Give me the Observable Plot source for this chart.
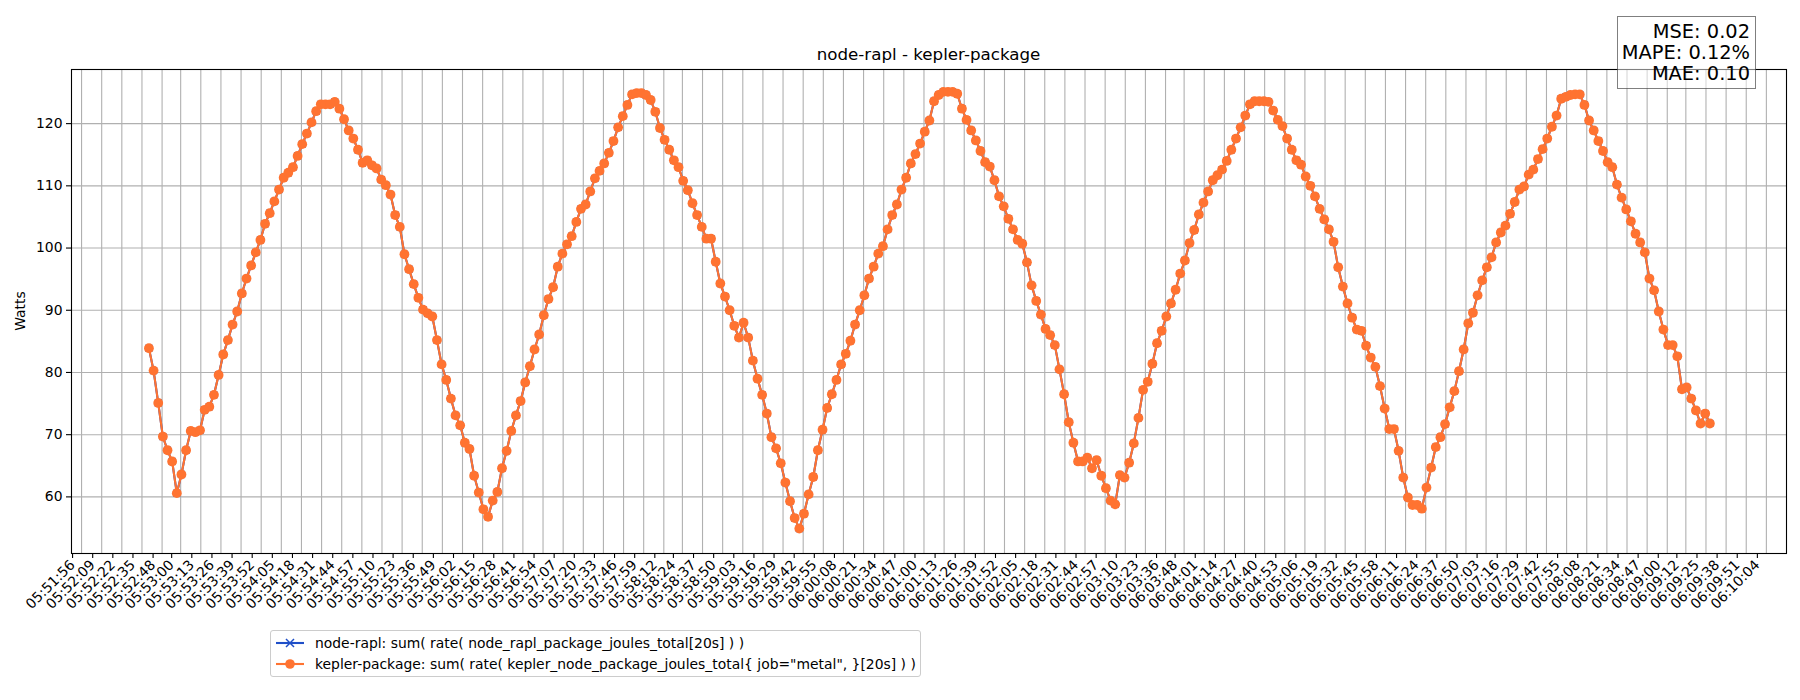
<!DOCTYPE html>
<html>
<head>
<meta charset="utf-8">
<script src="https://cdn.jsdelivr.net/npm/d3@7"></script>
<script src="https://cdn.jsdelivr.net/npm/@observablehq/plot@0.6"></script>
<style>
  html, body { margin: 0; padding: 0; background: #ffffff; }
  body { font-family: "DejaVu Sans", sans-serif; color: #000; }
  #fig { position: relative; width: 1800px; height: 700px; overflow: hidden; background: #fff; }
  #chart { position: absolute; left: 0; top: 0; }
  #title { position: absolute; left: 71px; width: 1715px; top: 44px; text-align: center; font-size: 16.7px; line-height: 20px; white-space: nowrap; }
  #ylabel { position: absolute; left: 20px; top: 311px; transform: translate(-50%, -50%) rotate(-90deg); font-size: 13.9px; line-height: 16px; white-space: nowrap; }
  #stats { position: absolute; left: 1617px; top: 16px; width: 139px; height: 73px; box-sizing: border-box; border: 1.3px solid rgba(0,0,0,0.5); background: rgba(255,255,255,0.5); text-align: right; padding: 3.5px 5px 0 0; font-size: 19.4px; line-height: 21.3px; white-space: nowrap; }
  #legend { position: absolute; left: 270px; top: 630px; width: 651px; height: 47px; box-sizing: border-box; border: 1px solid #cccccc; border-radius: 3px; background: rgba(255,255,255,0.8); padding: 4.6px 0 0 5px; font-size: 13.9px; }
  #legend .row { display: flex; align-items: center; height: 14.4px; margin-bottom: 7px; white-space: nowrap; }
  #legend svg { display: block; margin-right: 11px; overflow: visible; }
</style>
</head>
<body>
<div id="fig">
  <div id="chart"></div>
  <div id="title"></div>
  <div id="ylabel"></div>
  <div id="stats"></div>
  <div id="legend"></div>
</div>
<script>
// ---------------- data ----------------
const chartTitle = "node-rapl - kepler-package";
const yLabel = "Watts";
const statLines = ["MSE: 0.02", "MAPE: 0.12%", "MAE: 0.10"];
const seriesNames = [
  "node-rapl: sum( rate( node_rapl_package_joules_total[20s] ) )",
  "kepler-package: sum( rate( kepler_node_package_joules_total{ job=\"metal\", }[20s] ) )"
];
const seriesColors = ["#1f4fc8", "#ff7331"];

const xTickLabels = [
  "05:51:56","05:52:09","05:52:22","05:52:35","05:52:48","05:53:00","05:53:13","05:53:26","05:53:39","05:53:52",
  "05:54:05","05:54:18","05:54:31","05:54:44","05:54:57","05:55:10","05:55:23","05:55:36","05:55:49","05:56:02",
  "05:56:15","05:56:28","05:56:41","05:56:54","05:57:07","05:57:20","05:57:33","05:57:46","05:57:59","05:58:12",
  "05:58:24","05:58:37","05:58:50","05:59:03","05:59:16","05:59:29","05:59:42","05:59:55","06:00:08","06:00:21",
  "06:00:34","06:00:47","06:01:00","06:01:13","06:01:26","06:01:39","06:01:52","06:02:05","06:02:18","06:02:31",
  "06:02:44","06:02:57","06:03:10","06:03:23","06:03:36","06:03:48","06:04:01","06:04:14","06:04:27","06:04:40",
  "06:04:53","06:05:06","06:05:19","06:05:32","06:05:45","06:05:58","06:06:11","06:06:24","06:06:37","06:06:50",
  "06:07:03","06:07:16","06:07:29","06:07:42","06:07:55","06:08:08","06:08:21","06:08:34","06:08:47","06:09:00",
  "06:09:12","06:09:25","06:09:38","06:09:51","06:10:04"
];
const yTickValues = [60, 70, 80, 90, 100, 110, 120];
const xDomainLimits = ["05:51:49.5", "06:10:17"];
const yDomainLimits = [50.9, 128.7];

// samples: one every 3 s starting at sampleStart
const sampleStart = "05:52:39.5";
const sampleStepSeconds = 3;

const raplWatts = [
  83.9, 80.3, 75.1, 69.7, 67.5, 65.7, 60.6, 63.6, 67.5, 70.6, 70.4, 70.7, 74.0, 74.5, 76.4, 79.6, 82.9, 85.2, 87.7, 89.8,
  92.7, 95.1, 97.2, 99.3, 101.3, 103.9, 105.6, 107.5, 109.4, 111.3, 112.1, 113.0, 114.8, 116.7, 118.4, 120.2, 122.0, 123.1, 123.1, 123.1,
  123.5, 122.4, 120.7, 118.9, 117.6, 115.8, 113.7, 114.1, 113.3, 112.8, 111.0, 110.1, 108.6, 105.3, 103.4,
  99.0, 96.6, 94.2, 92.0, 90.1, 89.5, 89.0, 85.2, 81.3, 78.8, 75.8, 73.1, 71.5, 68.7, 67.7, 63.4, 60.7, 58.0, 56.8, 59.4,
  60.8, 64.6, 67.4, 70.6, 73.1, 75.4, 78.4, 81.0, 83.7, 86.1, 89.2, 91.8, 93.7, 97.0, 99.1, 100.6, 101.9, 104.2, 106.3, 107.0,
  109.1, 111.2, 112.4, 113.6, 115.3, 117.2, 119.4, 121.2, 123.0, 124.7, 124.9, 124.9, 124.6, 123.8, 121.9, 119.3, 117.4,
  115.8, 114.1, 113.0, 110.8, 109.3, 107.2, 105.3, 103.4, 101.5, 101.5, 97.8, 94.3, 92.2, 90.0, 87.5, 85.6, 88.0, 85.6, 81.9, 79.0,
  76.4, 73.4, 69.6, 67.8, 65.4, 62.3, 59.3, 56.6, 54.9, 57.3, 60.4, 63.2, 67.5, 70.8, 74.3, 76.5, 78.8, 81.3, 83.0, 85.1,
  87.7, 90.0, 92.4, 95.1, 97.0, 99.1, 100.3, 103.0, 105.3, 107.0, 109.4, 111.3, 113.6, 115.1, 116.8, 118.7, 120.5,
  123.6, 124.6, 125.1, 125.1, 125.1, 124.8, 122.4, 120.6, 118.9, 117.3, 115.6, 113.8, 113.1, 110.9, 108.3, 106.7, 104.7, 103.0, 101.3, 100.7,
  97.7, 94.0, 91.5, 89.3, 87.0, 86.0, 84.4, 80.5, 76.5, 72.0, 68.7, 65.7, 65.7, 66.3, 64.6, 65.9, 63.4, 61.4, 59.4, 58.8,
  63.5, 63.1, 65.5, 68.6, 72.7, 77.2, 78.5, 81.4, 84.7, 86.7, 89.0, 91.1, 93.3, 95.9, 98.0, 100.8, 102.9,
  105.4, 107.3, 109.1, 110.9, 111.7, 112.6, 114.0, 115.8, 117.6, 119.4, 121.3, 123.1, 123.6, 123.6, 123.6, 123.5, 122.1, 120.6, 119.6, 117.6,
  115.8, 114.1, 113.4, 111.5, 110.0, 108.3, 106.3, 104.6, 103.0, 101.0, 96.9, 93.8, 91.1, 88.8, 86.9, 86.7, 84.3, 82.4, 80.9, 77.8,
  74.2, 70.9, 70.9, 67.4, 63.1, 59.9, 58.7, 58.7, 58.1, 61.5, 64.7, 68.0, 69.6, 71.7, 74.4, 77.0, 80.2,
  83.7, 87.9, 89.6, 92.4, 94.8, 96.9, 98.5, 100.9, 102.5, 103.6, 105.5, 107.4, 109.4, 109.9, 111.8, 112.6, 114.3, 115.9, 117.6, 119.5,
  121.3, 124.0, 124.3, 124.6, 124.7, 124.7, 123.0, 120.5, 118.9, 117.2, 115.6, 113.8, 113.0, 110.2, 108.1, 106.2, 104.3, 102.3, 100.9, 99.3,
  95.1, 93.2, 89.8, 86.9, 84.4, 84.4, 82.6, 77.3, 77.6, 75.8, 73.9, 71.8, 73.4, 71.8
];
// kepler-package tracks node-rapl almost exactly (MAE 0.10 W): indistinguishable at this scale
const keplerWatts = raplWatts.slice();

// ---------------- build ----------------
const toDate = s => new Date("1970-01-01T" + s + "Z");
const t0 = toDate(sampleStart);
const rows = raplWatts.map((v, i) => ({
  time: new Date(+t0 + i * sampleStepSeconds * 1000),
  rapl: v,
  kepler: keplerWatts[i]
}));
const xTicks = xTickLabels.map(toDate);
const fmt = d3.utcFormat("%H:%M:%S");

const FONT = "DejaVu Sans, sans-serif";
const chart = Plot.plot({
  width: 1800,
  height: 700,
  marginLeft: 71,
  marginRight: 14,
  marginTop: 69,
  marginBottom: 147,
  style: { fontFamily: FONT, fontSize: "13.9px", background: "transparent", color: "#000" },
  x: { type: "utc", domain: xDomainLimits.map(toDate) },
  y: { domain: yDomainLimits },
  marks: [
    Plot.gridX(xTicks, { stroke: "#b0b0b0", strokeOpacity: 1, strokeWidth: 1.1 }),
    Plot.gridY(yTickValues, { stroke: "#b0b0b0", strokeOpacity: 1, strokeWidth: 1.1 }),
    Plot.axisX(xTicks, {
      tickRotate: -45, tickFormat: fmt, tickSize: 5, tickPadding: 4, label: null,
      fontSize: 13.9, stroke: "#000", strokeWidth: 1.1, dx: -9, dy: 0
    }),
    Plot.axisY(yTickValues, { tickSize: 5, tickPadding: 4, label: null, fontSize: 13.9, stroke: "#000", strokeWidth: 1.1 }),
    Plot.line(rows, { x: "time", y: "rapl", stroke: seriesColors[0], strokeWidth: 2.1 }),
    Plot.dot(rows, { x: "time", y: "rapl", symbol: "times", stroke: seriesColors[0], strokeWidth: 1.3, r: 3.2 }),
    Plot.line(rows, { x: "time", y: "kepler", stroke: seriesColors[1], strokeWidth: 2.1 }),
    Plot.dot(rows, { x: "time", y: "kepler", fill: seriesColors[1], r: 4.9 }),
    Plot.frame({ stroke: "#000", strokeWidth: 1.1 })
  ]
});
document.getElementById("chart").appendChild(chart);

document.getElementById("title").textContent = chartTitle;
document.getElementById("ylabel").textContent = yLabel;
const stats = document.getElementById("stats");
statLines.forEach(s => { const d = document.createElement("div"); d.textContent = s; stats.appendChild(d); });

const legend = document.getElementById("legend");
seriesNames.forEach((name, i) => {
  const row = document.createElement("div");
  row.className = "row";
  const ns = "http://www.w3.org/2000/svg";
  const svg = document.createElementNS(ns, "svg");
  svg.setAttribute("width", "28"); svg.setAttribute("height", "14");
  const ln = document.createElementNS(ns, "line");
  ln.setAttribute("x1", 0); ln.setAttribute("x2", 28); ln.setAttribute("y1", 7); ln.setAttribute("y2", 7);
  ln.setAttribute("stroke", seriesColors[i]); ln.setAttribute("stroke-width", 2.1);
  svg.appendChild(ln);
  if (i === 0) {
    const p = document.createElementNS(ns, "path");
    p.setAttribute("d", "M10,3L18,11M18,3L10,11");
    p.setAttribute("stroke", seriesColors[i]); p.setAttribute("stroke-width", 1.5);
    svg.appendChild(p);
  } else {
    const c = document.createElementNS(ns, "circle");
    c.setAttribute("cx", 14); c.setAttribute("cy", 7); c.setAttribute("r", 4.8);
    c.setAttribute("fill", seriesColors[i]);
    svg.appendChild(c);
  }
  row.appendChild(svg);
  const sp = document.createElement("span");
  sp.textContent = name;
  row.appendChild(sp);
  legend.appendChild(row);
});
</script>
</body>
</html>
